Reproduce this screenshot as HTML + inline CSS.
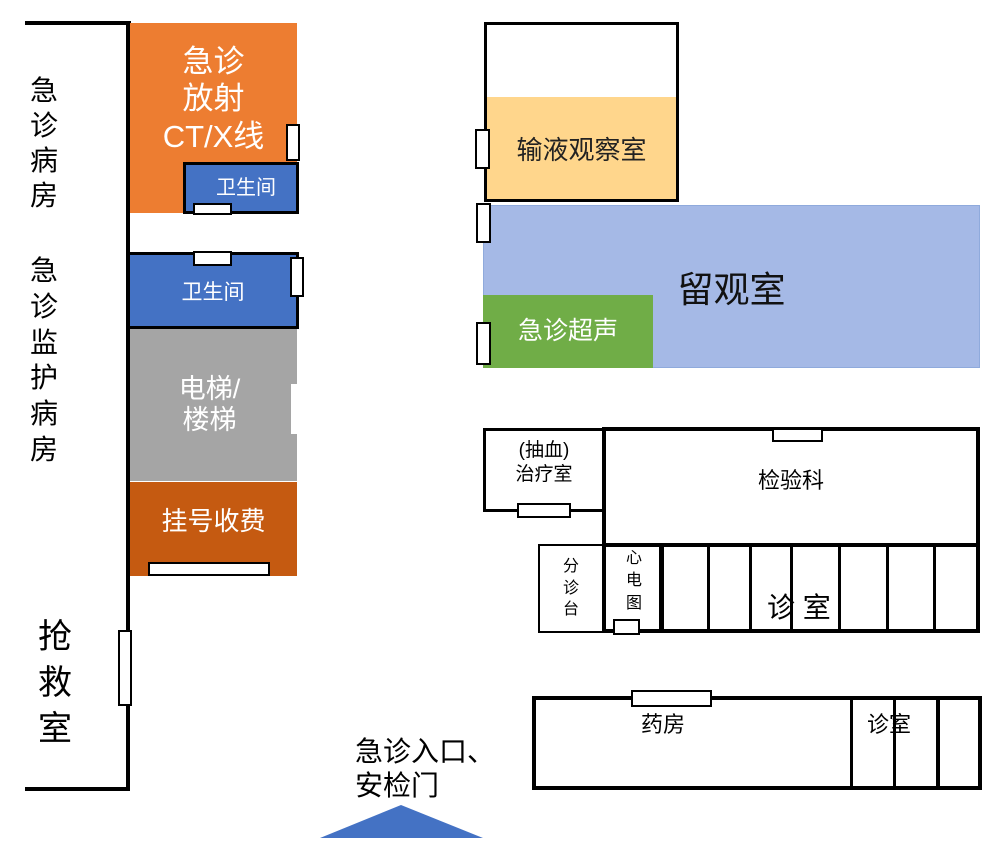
<!DOCTYPE html>
<html><head><meta charset="utf-8"><style>
body{margin:0;width:1002px;height:853px;background:#fff;position:relative;overflow:hidden;font-family:"Liberation Sans","Noto Sans CJK SC",sans-serif}
div{position:absolute;box-sizing:border-box}
.t{display:flex;align-items:center;justify-content:center;text-align:center}
.door{background:#fff;border:2px solid #000}
.v{line-height:1.12}
</style></head><body>
<div style="left:25px;top:21px;width:106px;height:4px;background:#000"></div>
<div style="left:126px;top:21px;width:4px;height:770px;background:#000"></div>
<div style="left:25px;top:787px;width:105px;height:4px;background:#000"></div>
<div class="v" style="left:30px;top:73px;width:34px;font-size:28px;line-height:1.25">急<br>诊<br>病<br>房</div>
<div class="v" style="left:30px;top:253px;width:34px;font-size:28px;line-height:1.28">急<br>诊<br>监<br>护<br>病<br>房</div>
<div class="v" style="left:38px;top:615px;width:40px;font-size:34px;line-height:1.35">抢<br>救<br>室</div>
<div class="door" style="left:118px;top:630px;width:14px;height:76px"></div>

<div class="t" style="left:130px;top:23px;width:167px;height:190px;background:#ED7D31;color:#fff;font-size:31px;line-height:1.2;padding-bottom:38px">急诊<br>放射<br>CT/X线</div>
<div class="door" style="left:286px;top:124px;width:14px;height:37px"></div>
<div class="t" style="left:183px;top:162px;width:116px;height:52px;background:#4472C4;border:3px solid #000;color:#fff;font-size:20px;padding-left:10px;padding-bottom:6px">卫生间</div>
<div class="door" style="left:193px;top:203px;width:39px;height:12px"></div>

<div class="t" style="left:127px;top:252px;width:172px;height:77px;background:#4472C4;border:3px solid #000;color:#fff;font-size:21px">卫生间</div>
<div class="door" style="left:193px;top:251px;width:39px;height:15px"></div>
<div class="door" style="left:290px;top:257px;width:14px;height:40px"></div>
<div class="t" style="left:130px;top:329px;width:167px;height:152px;background:#A5A5A5;color:#fff;font-size:27px;line-height:1.15;padding-right:8px">电梯/<br>楼梯</div>
<div style="left:291px;top:384px;width:7px;height:50px;background:#fff"></div>
<div class="t" style="left:130px;top:482px;width:167px;height:94px;background:#C55A11;color:#fff;font-size:26px;padding-bottom:20px">挂号收费</div>
<div class="door" style="left:148px;top:562px;width:122px;height:14px"></div>

<div style="left:484px;top:22px;width:195px;height:180px;border:3px solid #000"></div>
<div class="t" style="left:487px;top:97px;width:189px;height:102px;background:#FFD68C;font-size:26px;color:#222">输液观察室</div>
<div class="door" style="left:475px;top:129px;width:15px;height:40px"></div>
<div class="t" style="left:483px;top:205px;width:497px;height:163px;background:#A5B9E6;border:1px solid #8FAADC;font-size:36px;color:#111">留观室</div>
<div class="door" style="left:476px;top:203px;width:15px;height:40px"></div>
<div class="t" style="left:483px;top:295px;width:170px;height:73px;background:#70AD47;color:#fff;font-size:25px;padding-bottom:6px">急诊超声</div>
<div class="door" style="left:476px;top:322px;width:15px;height:43px"></div>

<div class="t" style="left:483px;top:428px;width:122px;height:84px;border:3px solid #000;font-size:19px;line-height:1.25;padding-bottom:14px">(抽血)<br>治疗室</div>
<div class="door" style="left:517px;top:503px;width:54px;height:15px"></div>
<div class="t" style="left:602px;top:427px;width:378px;height:120px;border:4px solid #000;font-size:22px;padding-bottom:16px">检验科</div>
<div class="door" style="left:772px;top:428px;width:51px;height:14px"></div>
<div class="t v" style="left:538px;top:544px;width:66px;height:89px;border:2px solid #000;font-size:16px;line-height:1.35">分<br>诊<br>台</div>
<div style="left:602px;top:543px;width:378px;height:90px;border:4px solid #000;border-top:0"></div>
<div class="v" style="left:626px;top:548px;width:20px;font-size:16px;line-height:1.4">心<br>电<br>图</div>
<div style="left:659px;top:543px;width:5px;height:90px;background:#000"></div>
<div style="left:707px;top:543px;width:3px;height:90px;background:#000"></div>
<div style="left:749px;top:543px;width:3px;height:90px;background:#000"></div>
<div style="left:790px;top:543px;width:3px;height:90px;background:#000"></div>
<div style="left:838px;top:543px;width:3px;height:90px;background:#000"></div>
<div style="left:886px;top:543px;width:3px;height:90px;background:#000"></div>
<div style="left:933px;top:543px;width:3px;height:90px;background:#000"></div>
<div style="left:767px;top:586px;font-size:28px;white-space:nowrap">诊 室</div>
<div class="door" style="left:613px;top:619px;width:27px;height:16px"></div>

<div style="left:532px;top:696px;width:450px;height:94px;border:4px solid #000"></div>
<div style="left:850px;top:696px;width:3px;height:94px;background:#000"></div>
<div style="left:893px;top:696px;width:3px;height:94px;background:#000"></div>
<div style="left:936px;top:696px;width:4px;height:94px;background:#000"></div>
<div style="left:641px;top:707px;font-size:22px">药房</div>
<div style="left:867px;top:707px;font-size:22px">诊室</div>
<div class="door" style="left:631px;top:690px;width:81px;height:17px"></div>

<div style="left:355px;top:735px;font-size:28px;line-height:1.23;white-space:nowrap">急诊入口、<br>安检门</div>
<svg style="position:absolute;left:0;top:0" width="1002" height="853"><polygon points="320,838 483,838 401,805" fill="#4472C4"/></svg>
</body></html>
